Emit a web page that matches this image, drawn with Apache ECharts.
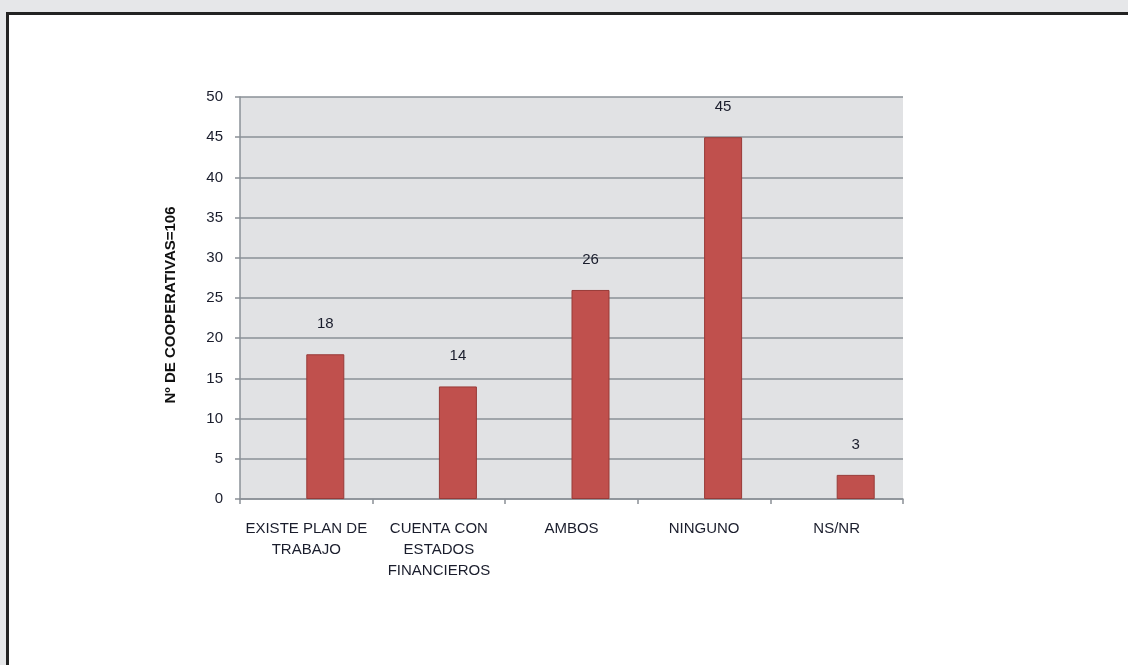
<!DOCTYPE html>
<html><head><meta charset="utf-8">
<script src="https://cdn.jsdelivr.net/npm/echarts@6/dist/echarts.min.js"></script>
<style>
html,body{margin:0;padding:0;background:#e6e7e9;width:1128px;height:665px;overflow:hidden;}
#frame{position:absolute;left:6px;top:12px;width:1130px;height:660px;border-left:3px solid #232323;border-top:3px solid #232323;background:#fff;}
#chart{position:absolute;left:0;top:0;width:1128px;height:665px;}
</style></head>
<body>
<div id="frame"></div>
<div id="chart"></div>
<script>
const categories = ["EXISTE PLAN DE\nTRABAJO", "CUENTA CON\nESTADOS\nFINANCIEROS", "AMBOS", "NINGUNO", "NS/NR"];
const values = [18, 14, 26, 45, 3];
const emptySeries = [null, null, null, null, null];
const yAxisTitle = "Nº DE COOPERATIVAS=106";
const yMin = 0, yMax = 50, yStep = 5;

const FONT = "'Liberation Sans', Arial, sans-serif";
const chart = echarts.init(document.getElementById('chart'), null, {renderer: 'canvas'});
chart.setOption({
  animation: false,
  backgroundColor: 'transparent',
  grid: {left: 240, top: 97, right: 225, bottom: 166, show: true, backgroundColor: '#e1e2e4', borderWidth: 0},
  xAxis: {
    type: 'category',
    data: categories,
    axisLine: {show: true, lineStyle: {color: '#8a9097', width: 1.5}},
    axisTick: {show: true, length: 5, alignWithLabel: false, lineStyle: {color: '#8a9097', width: 1.5}},
    axisLabel: {interval: 0, color: '#1a1d2c', fontFamily: FONT, fontSize: 15, lineHeight: 21, margin: 19}
  },
  yAxis: {
    type: 'value',
    min: yMin, max: yMax, interval: yStep,
    name: yAxisTitle,
    nameLocation: 'middle',
    nameRotate: 90,
    nameGap: 62,
    nameTextStyle: {fontFamily: FONT, fontWeight: 'bold', fontSize: 15, color: '#111', padding: [0, 14, 0, 0]},
    axisLine: {show: true, lineStyle: {color: '#8a9097', width: 1.5}},
    axisTick: {show: true, length: 5, lineStyle: {color: '#8a9097', width: 1.5}},
    axisLabel: {color: '#1a1d2c', fontFamily: FONT, fontSize: 15, margin: 17},
    splitLine: {show: true, lineStyle: {color: '#8a9097', width: 1.5}}
  },
  series: [
    {type: 'bar', data: emptySeries, barWidth: 38, barGap: '0%'},
    {
      type: 'bar', data: values, barWidth: 38, barGap: '0%',
      itemStyle: {color: '#c0504d', borderColor: '#983a37', borderWidth: 1},
      label: {show: true, position: 'top', distance: 23, fontFamily: FONT, fontSize: 15, color: '#1a1d2c'}
    }
  ]
});
</script>
</body></html>
